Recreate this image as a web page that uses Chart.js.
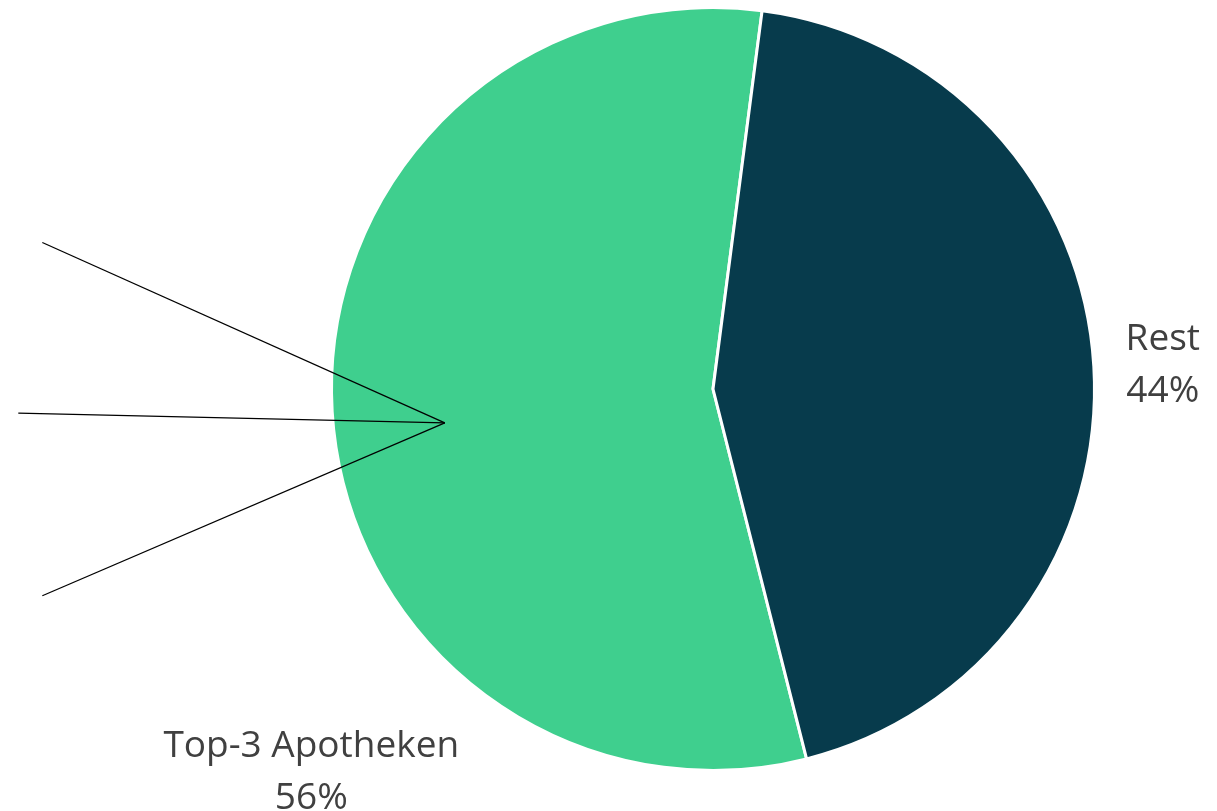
<!DOCTYPE html>
<html>
<head>
<meta charset="utf-8">
<script src="https://cdn.jsdelivr.net/npm/chart.js@4/dist/chart.umd.min.js"></script>
<style>
  html, body { margin: 0; padding: 0; background: #fff; }
  #wrap { width: 1217px; height: 811px; }
</style>
</head>
<body>
<div id="wrap"><canvas id="myChart" width="1217" height="811"></canvas></div>
<script>
const categories = ['Top-3 Apotheken', 'Rest'];
const shares = [56, 44];
const sliceColours = ['#3FCF8E', '#073B4C'];

// label anchors, in units of the pie radius from its centre
const labelAnchors = [[-1.053, 1.005], [1.179, -0.061]];
// the three leader lines on the left: common start, three ends (radius units)
const leaderStart = [-0.703, 0.089];
const leaderEnds = [[-1.758, -0.384], [-1.821, 0.063], [-1.758, 0.542]];

const outsideLabels = {
	id: 'outsideLabels',
	afterDraw(chart) {
		const arc = chart.getDatasetMeta(0).data[0];
		if (!arc) return;
		const cx = arc.x, cy = arc.y, r = arc.outerRadius;
		const ctx = chart.ctx;
		ctx.save();

		// leader lines
		ctx.strokeStyle = '#000';
		ctx.lineWidth = 1.3;
		leaderEnds.forEach(end => {
			ctx.beginPath();
			ctx.moveTo(cx + leaderStart[0] * r, cy + leaderStart[1] * r);
			ctx.lineTo(cx + end[0] * r, cy + end[1] * r);
			ctx.stroke();
		});

		// category + percentage
		const total = shares.reduce((a, b) => a + b, 0);
		ctx.fillStyle = '#404040';
		ctx.font = '37px "Open Sans"';
		ctx.textAlign = 'center';
		ctx.textBaseline = 'middle';
		categories.forEach((name, i) => {
			const x = cx + labelAnchors[i][0] * r;
			const y = cy + labelAnchors[i][1] * r;
			ctx.fillText(name, x, y - 26);
			ctx.fillText(Math.round(shares[i] / total * 100) + '%', x, y + 26);
		});
		ctx.restore();
	}
};

new Chart(document.getElementById('myChart').getContext('2d'), {
	type: 'pie',
	data: {
		labels: categories,
		datasets: [{
			data: shares,
			backgroundColor: sliceColours,
			borderColor: '#fff',
			borderWidth: 3
		}]
	},
	options: {
		responsive: false,
		animation: false,
		rotation: 165.8,
		layout: {
			padding: { left: 330, right: 121, top: 6, bottom: 39 }
		},
		plugins: {
			legend: { display: false },
			tooltip: { enabled: false }
		}
	},
	plugins: [outsideLabels]
});
</script>
</body>
</html>
